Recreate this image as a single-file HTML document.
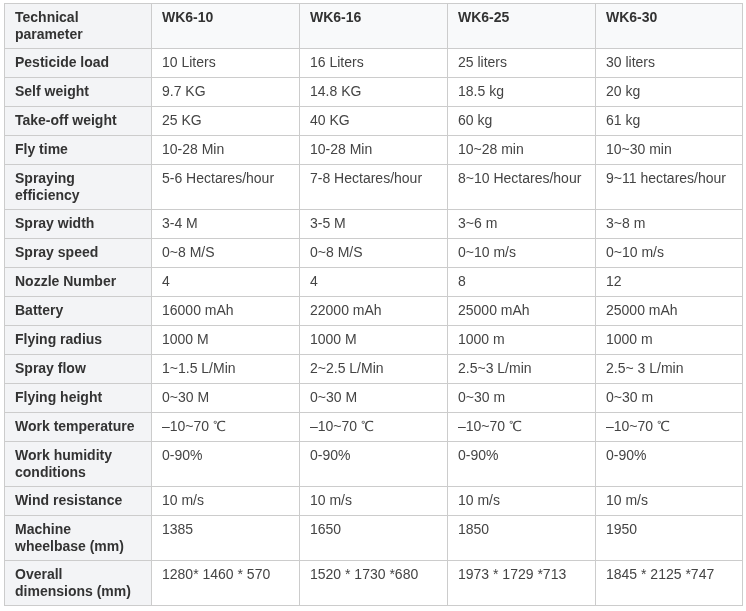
<!DOCTYPE html>
<html lang="en">
<head>
<meta charset="utf-8">
<title>WK6 technical parameters</title>
<style>
html,body{margin:0;padding:0;background:#fff;}
body{width:746px;height:611px;overflow:hidden;font-family:"Liberation Sans","WenQuanYi Zen Hei",sans-serif;font-size:14px;line-height:17px;}
table{will-change:transform;position:absolute;left:4px;top:3px;width:739px;border-collapse:separate;border-spacing:0;table-layout:fixed;border:0;border-right:1px solid #cccccc;border-bottom:1px solid #cccccc;}
col{width:148px;}
col.c1,col.c5{width:147px;}
th,td{border:0;border-left:1px solid #cccccc;border-top:1px solid #cccccc;padding:5px 10px 0 10px;text-align:left;vertical-align:top;height:23px;box-sizing:content-box;white-space:nowrap;overflow:hidden;}
tr.two th,tr.two td{height:39px;}
th{background:#f8f9fa;color:#333;font-weight:bold;}
td{background:#fff;color:#444;font-weight:normal;}
tr th:first-child{background:#f3f4f6;}

</style>
</head>
<body>
<table>
<colgroup><col class="c1"><col><col><col><col class="c5"></colgroup>
<tbody>
<tr class="two">
<th>Technical<br>parameter</th>
<th>WK6-10</th>
<th>WK6-16</th>
<th>WK6-25</th>
<th>WK6-30</th>
</tr>
<tr>
<th>Pesticide load</th>
<td>10 Liters</td>
<td>16 Liters</td>
<td>25 liters</td>
<td>30 liters</td>
</tr>
<tr>
<th>Self weight</th>
<td>9.7 KG</td>
<td>14.8 KG</td>
<td>18.5 kg</td>
<td>20 kg</td>
</tr>
<tr>
<th>Take-off weight</th>
<td>25 KG</td>
<td>40 KG</td>
<td>60 kg</td>
<td>61 kg</td>
</tr>
<tr>
<th>Fly time</th>
<td>10-28 Min</td>
<td>10-28 Min</td>
<td>10~28 min</td>
<td>10~30 min</td>
</tr>
<tr class="two">
<th>Spraying<br>efficiency</th>
<td>5-6 Hectares/hour</td>
<td>7-8 Hectares/hour</td>
<td>8~10 Hectares/hour</td>
<td>9~11 hectares/hour</td>
</tr>
<tr>
<th>Spray width</th>
<td>3-4 M</td>
<td>3-5 M</td>
<td>3~6 m</td>
<td>3~8 m</td>
</tr>
<tr>
<th>Spray speed</th>
<td>0~8 M/S</td>
<td>0~8 M/S</td>
<td>0~10 m/s</td>
<td>0~10 m/s</td>
</tr>
<tr>
<th>Nozzle Number</th>
<td>4</td>
<td>4</td>
<td>8</td>
<td>12</td>
</tr>
<tr>
<th>Battery</th>
<td>16000 mAh</td>
<td>22000 mAh</td>
<td>25000 mAh</td>
<td>25000 mAh</td>
</tr>
<tr>
<th>Flying radius</th>
<td>1000 M</td>
<td>1000 M</td>
<td>1000 m</td>
<td>1000 m</td>
</tr>
<tr>
<th>Spray flow</th>
<td>1~1.5 L/Min</td>
<td>2~2.5 L/Min</td>
<td>2.5~3 L/min</td>
<td>2.5~ 3 L/min</td>
</tr>
<tr>
<th>Flying height</th>
<td>0~30 M</td>
<td>0~30 M</td>
<td>0~30 m</td>
<td>0~30 m</td>
</tr>
<tr>
<th>Work temperature</th>
<td>–10~70 ℃</td>
<td>–10~70 ℃</td>
<td>–10~70 ℃</td>
<td>–10~70 ℃</td>
</tr>
<tr class="two">
<th>Work humidity<br>conditions</th>
<td>0-90%</td>
<td>0-90%</td>
<td>0-90%</td>
<td>0-90%</td>
</tr>
<tr>
<th>Wind resistance</th>
<td>10 m/s</td>
<td>10 m/s</td>
<td>10 m/s</td>
<td>10 m/s</td>
</tr>
<tr class="two">
<th>Machine<br>wheelbase (mm)</th>
<td>1385</td>
<td>1650</td>
<td>1850</td>
<td>1950</td>
</tr>
<tr class="two">
<th>Overall<br>dimensions (mm)</th>
<td>1280* 1460 * 570</td>
<td>1520 * 1730 *680</td>
<td>1973 * 1729 *713</td>
<td>1845 * 2125 *747</td>
</tr>
</tbody>
</table>
</body>
</html>
